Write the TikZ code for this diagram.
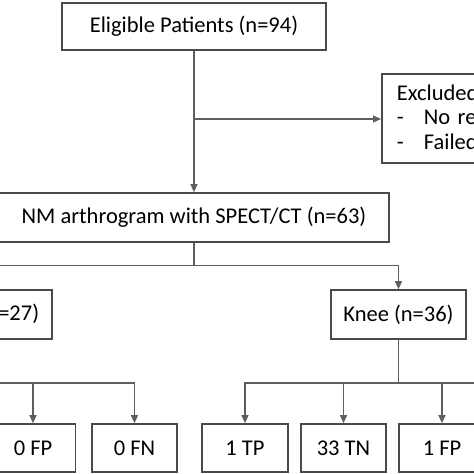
\documentclass[tikz,border=0pt]{standalone}
\usepackage{fontspec}
\setmainfont{Carlito}
\usetikzlibrary{arrows.meta}
\definecolor{boxgray}{HTML}{4A4A4A}
\definecolor{linegray}{HTML}{5E5E5E}
\begin{document}
\begin{tikzpicture}[x=1pt,y=-1pt,
  box/.style={draw=boxgray, line width=1.7pt, fill=white, inner sep=0pt,
    font=\fontsize{22.5}{24.5}\selectfont, text=black},
  conn/.style={draw=linegray, line width=1.2pt},
  arr/.style={conn, -{Triangle[length=8pt,width=7pt]}}]
\useasboundingbox (0,0) rectangle (474,474);
\clip (0,0) rectangle (474,474);
\fill[white] (0,0) rectangle (474,474);
% boxes
\node[box, minimum width=264pt, minimum height=47pt] (elig) at (194,26.5) {Eligible Patients (n=94)};
\node[box, anchor=north west, minimum width=330pt, minimum height=89pt,
      text width=300pt, align=left, inner xsep=11pt] (excl) at (381,73)
  {Excluded (n=31)\\\makebox[27pt][l]{-}No reference standard\\\makebox[27pt][l]{-}Failed injection};
\node[box, minimum width=390pt, minimum height=49pt] (nm) at (194,217.5) {NM arthrogram with SPECT/CT (n=63)};
\node[box, anchor=east, minimum height=49pt, inner xsep=13pt] (hip) at (53,314.5) {Hip (n=27)};
\node[box, minimum width=135pt, minimum height=49pt] (knee) at (398.5,314.5) {Knee (n=36)};
\node[box, minimum width=85pt, minimum height=48pt] (fp0) at (33,448) {0 FP};
\node[box, minimum width=85pt, minimum height=48pt] (fn0) at (134.5,448) {0 FN};
\node[box, minimum width=86pt, minimum height=48pt] (tp1) at (245,448) {1 TP};
\node[box, minimum width=85pt, minimum height=48pt] (tn33) at (343.5,448) {33 TN};
\node[box, minimum width=86pt, minimum height=48pt] (fp1) at (442,448) {1 FP};
% connectors
\draw[arr] (elig.south) -- (nm.north);
\coordinate (j1) at (194,119);
\draw[arr] (j1) -- (j1 -| excl.west);
\draw[conn] (nm.south) -- ++(0,23) coordinate (j2);
\draw[arr] (j2) -| (knee.north);
\draw[arr] (j2) -| (hip.north);
\coordinate (hl) at (-40,383);
\coordinate (kr) at (560,383);
\draw[conn] (hip.south) -- (hip.south |- hl);
\draw[arr] (hl) -| (fp0.north);
\draw[arr] (hl) -| (fn0.north);
\draw[conn] (knee.south) -- (knee.south |- kr) coordinate (j3);
\draw[conn] (j3) -- (kr);
\draw[arr] (j3) -| (tp1.north);
\draw[arr] (j3) -| (tn33.north);
\draw[arr] (j3) -| (fp1.north);
\end{tikzpicture}
\end{document}
